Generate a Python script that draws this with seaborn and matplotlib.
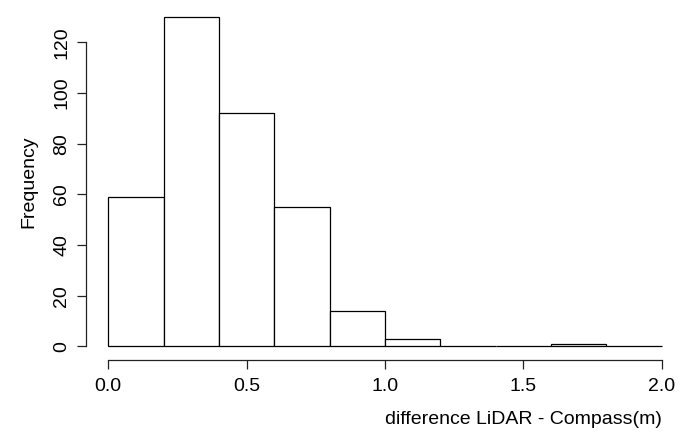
import numpy as np
import pandas as pd
import matplotlib
matplotlib.use("Agg")
import matplotlib.pyplot as plt
import seaborn as sns

bin_edges = [0.0, 0.2, 0.4, 0.6, 0.8, 1.0, 1.2, 1.4, 1.6, 1.8, 2.0]
counts = [59, 130, 92, 55, 14, 3, 0, 0, 1, 0]
x_ticks = [0.0, 0.5, 1.0, 1.5, 2.0]
x_tick_labels = ["0.0", "0.5", "1.0", "1.5", "2.0"]
y_ticks = [0, 20, 40, 60, 80, 100, 120]

sns.set_style("white")
plt.rcParams['font.family'] = ['Liberation Sans', 'DejaVu Sans']
plt.rcParams['text.color'] = 'black'
plt.rcParams['axes.labelcolor'] = 'black'
plt.rcParams['xtick.color'] = 'black'
plt.rcParams['ytick.color'] = 'black'

centers = [(a + b) / 2 for a, b in zip(bin_edges[:-1], bin_edges[1:])]
df = pd.DataFrame({"diff": centers, "n": counts})

fig = plt.figure(figsize=(6.96, 4.41), dpi=100)
ax = fig.add_axes([86/696, 1 - 359.5/441, (684-86)/696, (359.5-4)/441])

sns.histplot(data=df, x="diff", weights="n", bins=bin_edges, ax=ax,
             color="white", edgecolor="black", linewidth=0.9, alpha=1)

ax.set_xlim(-0.08, 2.08)
ax.set_ylim(-5.2, 135.2)

for s in ["top", "right"]:
    ax.spines[s].set_visible(False)
for s in ["left", "bottom"]:
    ax.spines[s].set_visible(True)
    ax.spines[s].set_color("#222222")
    ax.spines[s].set_linewidth(0.9)
ax.spines["left"].set_bounds(0, 120)
ax.spines["bottom"].set_bounds(0, 2.0)

ax.set_xticks(x_ticks)
ax.set_xticklabels(x_tick_labels)
ax.set_yticks(y_ticks)
ax.set_yticklabels([str(v) for v in y_ticks], rotation=90, va="center")
ax.tick_params(axis="both", direction="out", length=6.5, width=0.9,
               color="#222222", labelcolor="black", labelsize=14, bottom=True, left=True)
ax.tick_params(axis="x", pad=7)
ax.tick_params(axis="y", pad=5)

ax.set_ylabel("Frequency", fontsize=14, labelpad=11, color="black")
ax.set_xlabel("")
ax.text(2.0, -0.17, "difference LiDAR - Compass(m)", transform=ax.get_xaxis_transform(),
        ha="right", va="center", fontsize=14, color="black")

fig.savefig("out.png", dpi=100)
